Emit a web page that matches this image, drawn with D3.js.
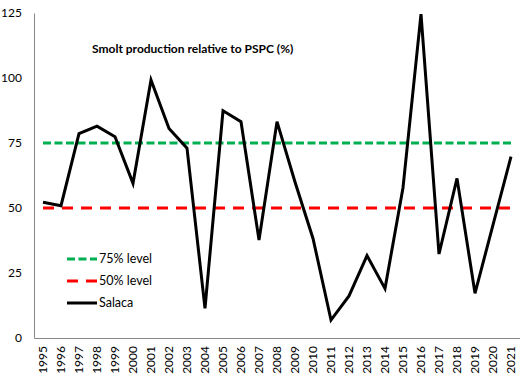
<!DOCTYPE html>
<html><head><meta charset="utf-8">
<script src="https://cdn.jsdelivr.net/npm/d3@7"></script>
<style>body{margin:0;background:#fff}svg{display:block}text{font-family:Lato,"Open Sans",sans-serif}</style>
</head><body>
<svg id="c" width="520" height="380"></svg>
<script>
const years = ["1995","1996","1997","1998","1999","2000","2001","2002","2003","2004","2005","2006","2007","2008","2009","2010","2011","2012","2013","2014","2015","2016","2017","2018","2019","2020","2021"];
const salaca = [52.2,50.9,78.6,81.5,77.4,59.5,99.2,80.6,73.0,11.4,87.4,83.2,37.7,83.2,60.0,38.3,6.9,16.2,31.7,19.0,57.8,124.6,32.3,61.4,17.2,43.5,69.8];
const level75 = 75;
const level50 = 50;
const yTicks = [0,25,50,75,100,125];
const titleText = "Smolt production relative to PSPC (%)";
const legendLabels = ["75% level","50% level","Salaca"];

const svg = d3.select("#c");
const m = {l:34, r:0, t:13, b:42};
const W = 520, H = 380;
const x = d3.scaleBand().domain(years).range([m.l, W - m.r]);
const y = d3.scaleLinear().domain([0,125]).range([H - m.b, m.t]);
const cx = d => x(d) + x.bandwidth()/2;

// axes
const ya = svg.append("g").attr("transform",`translate(${m.l},0)`)
  .call(d3.axisLeft(y).tickValues(yTicks).tickSize(0).tickPadding(12));
ya.select(".domain").attr("stroke","#888").attr("stroke-width",1);
ya.selectAll("text").attr("font-size",12).attr("fill","#000").style("font-family","Lato");

const xa = svg.append("g").attr("transform",`translate(0,${H - m.b})`)
  .call(d3.axisBottom(x).tickSize(0).tickPadding(8));
xa.select(".domain").attr("stroke","#888").attr("stroke-width",1);
xa.selectAll("text").attr("font-size",12).attr("fill","#000").style("font-family","Lato")
  .attr("transform","rotate(-90)").attr("text-anchor","end")
  .attr("x",-8).attr("y",0).attr("dy","0.35em");

// reference lines
svg.append("line").attr("x1",cx(years[0])).attr("x2",cx(years[years.length-1]))
  .attr("y1",y(level75)).attr("y2",y(level75))
  .attr("stroke","#00b050").attr("stroke-width",3).attr("stroke-dasharray","8,3.5");
svg.append("line").attr("x1",cx(years[0])).attr("x2",cx(years[years.length-1]))
  .attr("y1",y(level50)).attr("y2",y(level50))
  .attr("stroke","#ff0000").attr("stroke-width",3).attr("stroke-dasharray","11,8");

// series
svg.append("path").datum(salaca)
  .attr("fill","none").attr("stroke","#000").attr("stroke-width",3).attr("stroke-linejoin","miter")
  .attr("d", d3.line().x((d,i)=>cx(years[i])).y(d=>y(d)));

// title
svg.append("text").attr("x",92).attr("y",53).attr("font-size",12).attr("font-weight","bold")
  .attr("fill","#000").text(titleText);

// legend
const lg = svg.append("g");
const styles = [{c:"#00b050",d:"8,3.5"},{c:"#ff0000",d:"11,8"},{c:"#000",d:null}];
legendLabels.forEach((lab,i)=>{
  const yy = 259 + i*22;
  const ln = lg.append("line").attr("x1",67).attr("x2",97).attr("y1",yy).attr("y2",yy)
    .attr("stroke",styles[i].c).attr("stroke-width",3);
  if (styles[i].d) ln.attr("stroke-dasharray",styles[i].d);
  lg.append("text").attr("x",99).attr("y",yy).attr("dy","0.35em").attr("font-size",12.5)
    .attr("fill","#000").text(lab);
});
</script>
</body></html>
